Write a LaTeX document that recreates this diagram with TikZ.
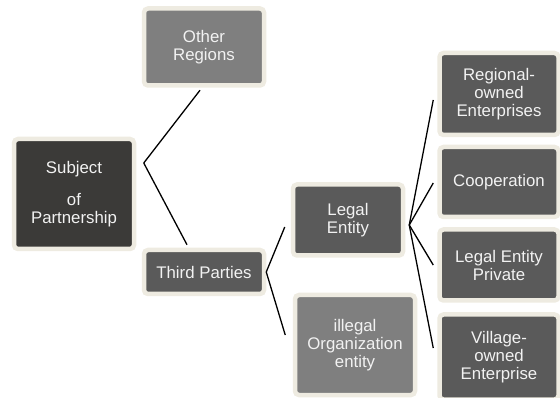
\documentclass[tikz,border=0pt]{standalone}
\usepackage{fontspec}
\setmainfont{Liberation Sans}
\usetikzlibrary{calc}
\definecolor{Frame}{HTML}{EEEBE1}
\definecolor{Coal}{HTML}{3B3A38}
\definecolor{Slate}{HTML}{5A5A5A}
\definecolor{Ash}{HTML}{7F7F7F}
\definecolor{Ink}{HTML}{F2F2F2}
\tikzset{
  box/.style={draw=Frame,fill=Slate,line width=4.5pt,rounded corners=4pt,align=center,inner sep=0pt,text=Ink,font=\fontsize{16.8}{18}\selectfont},
  rootbox/.style={box,fill=Coal},
  softbox/.style={box,fill=Ash},
  link/.style={draw=black,line width=1.3pt}
}

\begin{document}
\begin{tikzpicture}[x=1pt,y=-1pt]
  \useasboundingbox (0,0) rectangle (560,398);
  % first level
  \node[rootbox,minimum width=120pt,minimum height=110pt] (subj) at (74,194) {Subject\\[14pt]of\\Partnership};
  \node[softbox,minimum width=120pt,minimum height=77pt] (other) at (204,47) {Other\\Regions};
  \node[box,minimum width=120pt,minimum height=44pt] (third) at (204,272) {Third Parties};
  % second level
  \node[box,minimum width=110pt,minimum height=71pt] (legal) at (348,220) {Legal\\Entity};
  \node[softbox,minimum width=120pt,minimum height=100pt] (illegal) at (355,345) {illegal\\Organization\\entity};
  % third level
  \node[box,minimum width=119pt,minimum height=82pt] (regional) at (499,94) {Regional-\\owned\\Enterprises};
  \node[box,minimum width=119pt,minimum height=70pt] (coop) at (499,182) {Cooperation};
  \node[box,minimum width=119pt,minimum height=71pt] (private) at (499,265) {Legal Entity\\Private};
  \node[box,minimum width=119pt,minimum height=85pt] (village) at (499,357) {Village-\\owned\\Enterprise};

  \coordinate (subjhub) at ($(subj.east)+(7.5,-31)$);
  \coordinate (thirdhub) at (third.east);
  \coordinate (legalhub) at ($(legal.east)+(4,5)$);

  \draw[link] (subjhub) -- ($(other.south)+(-4,2.5)$);
  \draw[link] (subjhub) -- ($(third.north)+(-17,-3)$);
  \draw[link] (thirdhub) -- ($(legal.west)+(-6,7)$);
  \draw[link] (thirdhub) -- ($(illegal.west)+(-7.5,-10)$);
  \draw[link] (legalhub) -- ($(regional.west)+(-4,6)$);
  \draw[link] (legalhub) -- ($(coop.west)+(-4,1)$);
  \draw[link] (legalhub) -- ($(private.west)+(-4,0)$);
  \draw[link] (legalhub) -- ($(village.west)+(-4,-9)$);
\end{tikzpicture}
\end{document}
